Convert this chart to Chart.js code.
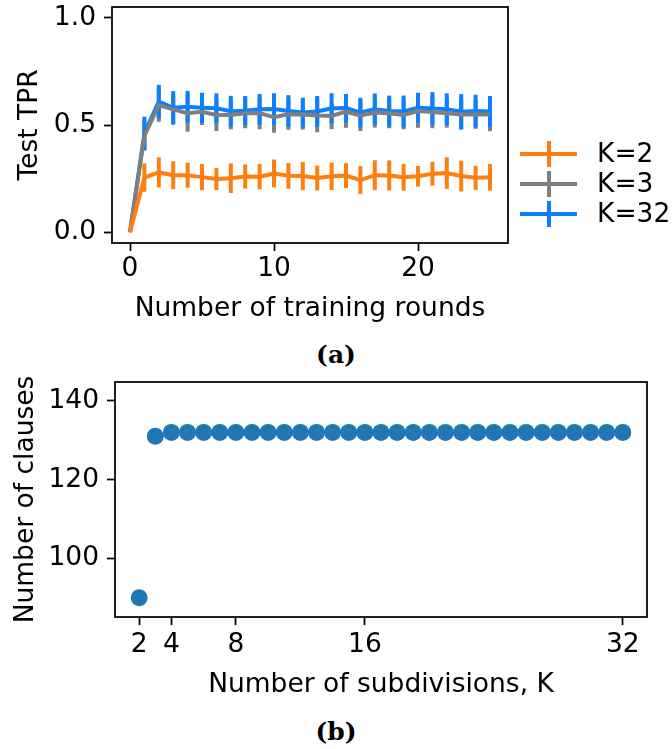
<!DOCTYPE html>
<html>
<head>
<meta charset="utf-8">
<script src="https://cdn.jsdelivr.net/npm/chart.js@4/dist/chart.umd.min.js"></script>
<style>
  body { margin: 0; background: #fff; }
  #wrap { position: relative; width: 672px; height: 749px; }
  canvas { position: absolute; left: 0; }
  .cap { position: absolute; width: 672px; left: 0; text-align: center;
         font-family: "DejaVu Serif", "Liberation Serif", serif; font-weight: bold; font-size: 25px; color: #000; }
</style>
</head>
<body>
<div id="wrap">
  <canvas id="topChart" width="672" height="330" style="top:0"></canvas>
  <div class="cap" style="top:340px">(a)</div>
  <canvas id="botChart" width="672" height="340" style="top:370px"></canvas>
  <div class="cap" style="top:717px">(b)</div>
</div>
<script>
// datos de la figura (a)
const rounds = [0,1,2,3,4,5,6,7,8,9,10,11,12,13,14,15,16,17,18,19,20,21,22,23,24,25];
const tprK2 = [0,0.255,0.279,0.266,0.266,0.257,0.248,0.252,0.260,0.259,0.274,0.263,0.262,0.253,0.261,0.264,0.243,0.266,0.265,0.256,0.261,0.273,0.276,0.262,0.254,0.256];
const errK2 = [0,0.066,0.070,0.065,0.058,0.061,0.051,0.069,0.056,0.059,0.065,0.060,0.066,0.058,0.064,0.058,0.065,0.070,0.070,0.062,0.048,0.055,0.074,0.072,0.056,0.062];
const tprK3 = [0,0.450,0.593,0.573,0.555,0.562,0.547,0.547,0.555,0.555,0.536,0.550,0.549,0.544,0.542,0.562,0.544,0.558,0.555,0.547,0.565,0.560,0.555,0.549,0.549,0.549];
const errK3 = [0,0.070,0.078,0.070,0.086,0.062,0.075,0.067,0.070,0.075,0.072,0.072,0.070,0.078,0.061,0.075,0.072,0.070,0.070,0.067,0.078,0.075,0.067,0.070,0.067,0.078];
const tprK32 = [0,0.461,0.609,0.580,0.585,0.580,0.578,0.564,0.567,0.573,0.574,0.565,0.558,0.563,0.578,0.579,0.558,0.573,0.565,0.563,0.580,0.577,0.574,0.562,0.565,0.563];
const errK32 = [0,0.078,0.078,0.078,0.074,0.070,0.070,0.072,0.068,0.072,0.074,0.074,0.069,0.072,0.070,0.066,0.069,0.074,0.072,0.074,0.070,0.076,0.074,0.082,0.076,0.072];
const roundTicks = [0,10,20];
const tprTicks = [0,0.5,1.0];

// datos de la figura (b)
const subdivisions = [2,3,4,5,6,7,8,9,10,11,12,13,14,15,16,17,18,19,20,21,22,23,24,25,26,27,28,29,30,31,32];
const clauses = [90,131,132,132,132,132,132,132,132,132,132,132,132,132,132,132,132,132,132,132,132,132,132,132,132,132,132,132,132,132,132];
const subdivTicks = [2,4,8,16,32];
const clauseTicks = [100,120,140];

const font = { family: 'DejaVu Sans', size: 26.5 };
const toXY = (xs, ys) => xs.map((x, i) => ({ x: x, y: ys[i] }));

// barras de error verticales, debajo de todas las lineas
const errorBars = {
  id: 'errorBars',
  beforeDatasetsDraw(chart) {
    const { ctx, scales: { x, y } } = chart;
    ctx.save();
    ctx.beginPath();
    ctx.rect(chart.chartArea.left, chart.chartArea.top, chart.chartArea.width, chart.chartArea.height);
    ctx.clip();
    chart.data.datasets.forEach(ds => {
      if (!ds.errors) return;
      ctx.strokeStyle = ds.borderColor;
      ctx.lineWidth = ds.borderWidth;
      ds.data.forEach((p, i) => {
        const e = ds.errors[i];
        if (!e) return;
        const px = x.getPixelForValue(p.x);
        ctx.beginPath();
        ctx.moveTo(px, y.getPixelForValue(p.y - e));
        ctx.lineTo(px, y.getPixelForValue(p.y + e));
        ctx.stroke();
      });
    });
    ctx.restore();
  }
};

// marco de los cuatro lados
const frame = {
  id: 'frame',
  afterDatasetsDraw(chart) {
    const { ctx, chartArea: a } = chart;
    ctx.save();
    ctx.strokeStyle = '#000';
    ctx.lineWidth = 1.75;
    ctx.strokeRect(a.left, a.top, a.right - a.left, a.bottom - a.top);
    ctx.restore();
  }
};

// leyenda al lado derecho con el simbolo de errorbar
const sideLegend = {
  id: 'sideLegend',
  afterDraw(chart) {
    const ctx = chart.ctx;
    chart.data.datasets.forEach((ds, i) => {
      const y = 154 + i * 30;
      ctx.save();
      ctx.strokeStyle = ds.borderColor;
      ctx.lineWidth = ds.borderWidth;
      ctx.beginPath();
      ctx.moveTo(520, y); ctx.lineTo(577, y);
      ctx.moveTo(549, y - 13); ctx.lineTo(549, y + 13);
      ctx.stroke();
      ctx.fillStyle = '#000';
      ctx.font = '26.5px "DejaVu Sans"';
      ctx.textBaseline = 'middle';
      ctx.fillText(ds.label, 597, y + 1);
      ctx.restore();
    });
  }
};

const axisGrid = { drawOnChartArea: false, drawTicks: true, tickLength: 8, tickWidth: 1.75, tickColor: '#000' };
const noPad = s => { s.paddingTop = 0; s.paddingBottom = 0; s.paddingLeft = 0; s.paddingRight = 0; };

new Chart(document.getElementById('topChart'), {
  type: 'line',
  data: {
    datasets: [
      { label: 'K=2', data: toXY(rounds, tprK2), errors: errK2, borderColor: '#ff7f0e', borderWidth: 4, pointRadius: 0, tension: 0 },
      { label: 'K=3', data: toXY(rounds, tprK3), errors: errK3, borderColor: '#7f7f7f', borderWidth: 4, pointRadius: 0, tension: 0 },
      { label: 'K=32', data: toXY(rounds, tprK32), errors: errK32, borderColor: '#0a80ff', borderWidth: 4, pointRadius: 0, tension: 0 }
    ]
  },
  options: {
    responsive: false, animation: false, devicePixelRatio: 1,
    layout: { padding: { top: 7, right: 164, left: 0, bottom: 5 } },
    plugins: { legend: { display: false }, tooltip: { enabled: false } },
    scales: {
      x: {
        type: 'linear', min: -1.25, max: 26.25,
        afterBuildTicks: s => { s.ticks = roundTicks.map(v => ({ value: v })); },
        afterFit: s => { s.height = 330 - 5 - 243; noPad(s); },
        ticks: { font: font, color: '#000', padding: 2 },
        grid: axisGrid, border: { display: false },
        title: { display: true, text: 'Number of training rounds', font: font, color: '#000', padding: 0 }
      },
      y: {
        min: -0.05, max: 1.05,
        afterBuildTicks: s => { s.ticks = tprTicks.map(v => ({ value: v })); },
        afterFit: s => { s.width = 112; noPad(s); },
        ticks: { font: font, color: '#000', padding: 8, callback: v => v.toFixed(1) },
        grid: axisGrid, border: { display: false },
        title: { display: true, text: 'Test TPR', font: font, color: '#000', padding: { top: 14 } }
      }
    }
  },
  plugins: [errorBars, frame, sideLegend]
});

new Chart(document.getElementById('botChart'), {
  type: 'scatter',
  data: {
    datasets: [
      { label: 'clauses', data: toXY(subdivisions, clauses), backgroundColor: '#1f77b4', borderWidth: 0, pointRadius: 8.5 }
    ]
  },
  options: {
    responsive: false, animation: false, devicePixelRatio: 1,
    layout: { padding: { top: 12, right: 25, left: 0, bottom: 9 } },
    plugins: { legend: { display: false }, tooltip: { enabled: false } },
    scales: {
      x: {
        type: 'linear', min: 0.5, max: 33.5,
        afterBuildTicks: s => { s.ticks = subdivTicks.map(v => ({ value: v })); },
        afterFit: s => { s.height = 340 - 9 - 247; noPad(s); },
        ticks: { font: font, color: '#000', padding: 4 },
        grid: axisGrid, border: { display: false },
        title: { display: true, text: 'Number of subdivisions, K', font: font, color: '#000', padding: 0 }
      },
      y: {
        min: 85.1, max: 144.8,
        afterBuildTicks: s => { s.ticks = clauseTicks.map(v => ({ value: v })); },
        afterFit: s => { s.width = 115; noPad(s); },
        ticks: { font: font, color: '#000', padding: 8 },
        grid: axisGrid, border: { display: false },
        title: { display: true, text: 'Number of clauses', font: font, color: '#000', padding: { top: 10 } }
      }
    }
  },
  plugins: [frame]
});
</script>
</body>
</html>
